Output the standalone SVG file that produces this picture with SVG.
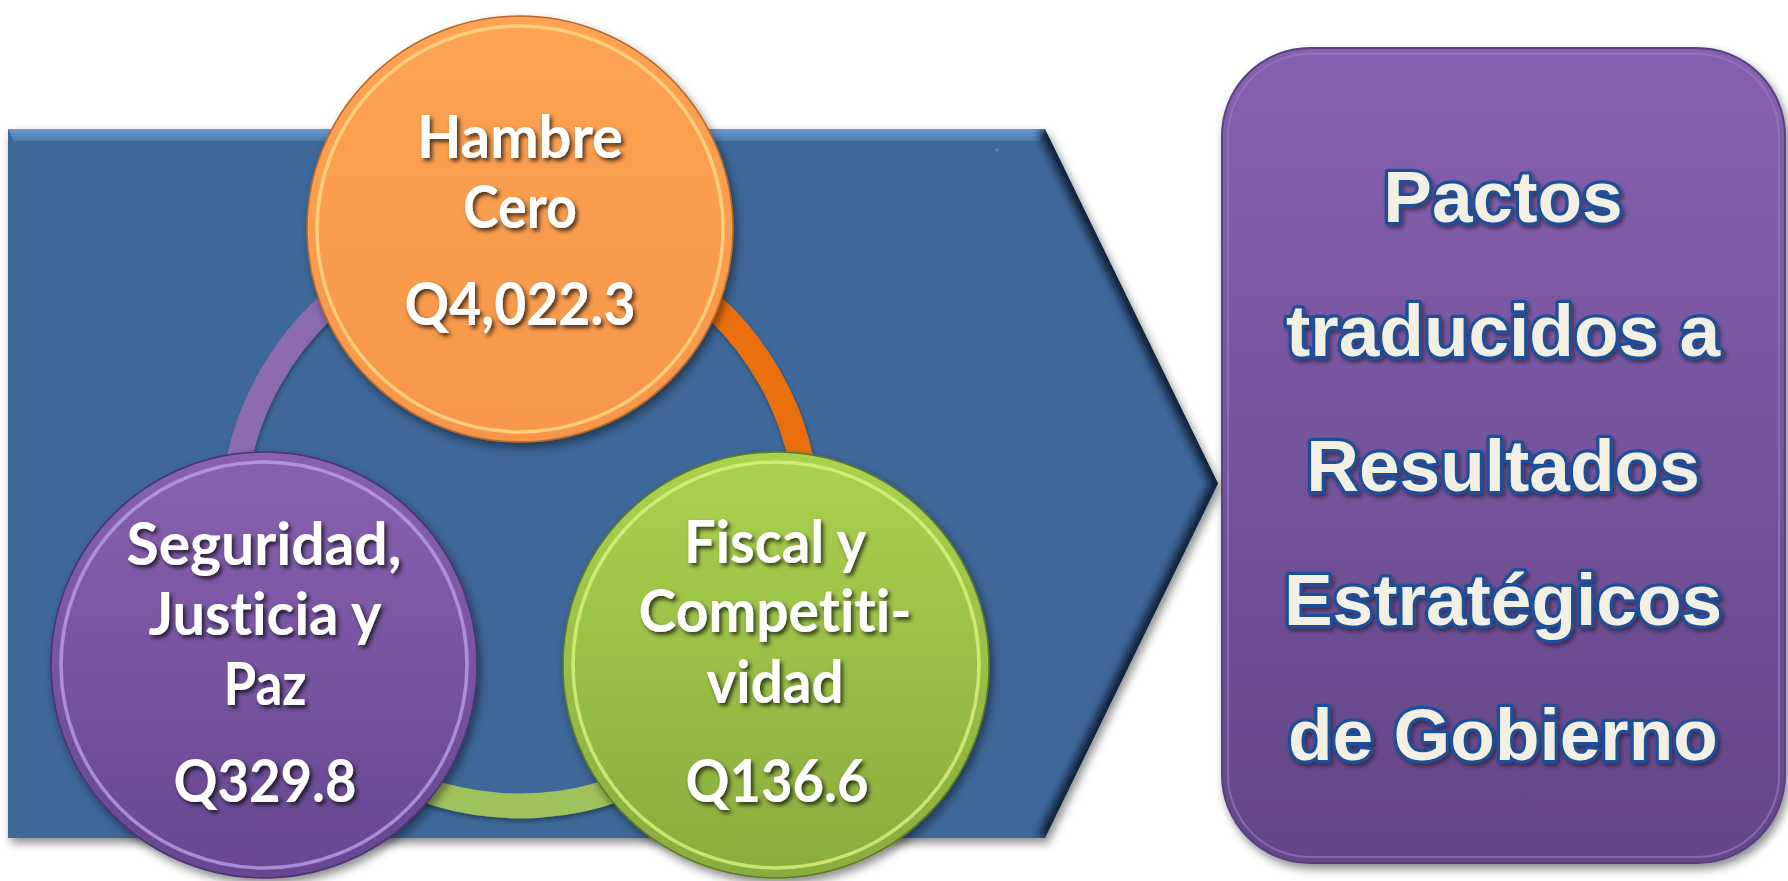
<svg xmlns="http://www.w3.org/2000/svg" width="1788" height="881" viewBox="0 0 1788 881">
<defs>
<style>
.lbl{font-family:Lato,"Liberation Sans",sans-serif;font-weight:700;font-size:60px;fill:#ffffff;text-anchor:middle;font-variant-ligatures:none;font-feature-settings:"liga" 0,"clig" 0;filter:url(#tsh)}
.big{font-family:"Liberation Sans",Arial,sans-serif;font-weight:700;font-size:73px;fill:#F3F0E3;stroke:#1C4F97;stroke-width:6.5;stroke-linejoin:round;paint-order:stroke;text-anchor:middle;filter:url(#tsh2)}
.ring{fill:none;stroke-width:25}
.rim{fill:none;stroke-width:3.5;opacity:0.8}
</style>
<filter id="tsh" x="-20%" y="-30%" width="140%" height="160%"><feDropShadow dx="2.5" dy="3" stdDeviation="2" flood-color="#000" flood-opacity="0.7"/></filter>
<filter id="tsh2" x="-20%" y="-30%" width="140%" height="160%"><feDropShadow dx="2" dy="3" stdDeviation="2" flood-color="#000" flood-opacity="0.45"/></filter>
<filter id="ssh" x="-20%" y="-20%" width="140%" height="140%"><feDropShadow dx="3" dy="5" stdDeviation="5" flood-color="#000" flood-opacity="0.45"/></filter>
<filter id="rsh" x="-10%" y="-10%" width="120%" height="120%"><feDropShadow dx="1" dy="3" stdDeviation="2" flood-color="#000" flood-opacity="0.35"/></filter>
<filter id="b4"><feGaussianBlur stdDeviation="4"/></filter>
<filter id="b2"><feGaussianBlur stdDeviation="2"/></filter>
<clipPath id="pc"><path d="M8,129 H1045 L1218,483.5 L1045,838 H8 Z"/></clipPath>
<linearGradient id="gTop" x1="0" y1="0" x2="0" y2="1"><stop offset="0" stop-color="#6B98CF"/><stop offset="1" stop-color="#4D7AB0"/></linearGradient>
<linearGradient id="gOr" x1="0" y1="0" x2="0" y2="1"><stop offset="0" stop-color="#FDA352"/><stop offset="1" stop-color="#F7964A"/></linearGradient>
<linearGradient id="gPu" x1="0" y1="0" x2="0" y2="1"><stop offset="0" stop-color="#8762B1"/><stop offset="1" stop-color="#654790"/></linearGradient>
<linearGradient id="gGr" x1="0" y1="0" x2="0" y2="1"><stop offset="0" stop-color="#AAD24F"/><stop offset="1" stop-color="#89AC3E"/></linearGradient>
<linearGradient id="gBox" x1="0" y1="0" x2="0" y2="1"><stop offset="0" stop-color="#8661B1"/><stop offset="1" stop-color="#634686"/></linearGradient>
</defs>

<g id="chevron">
<path d="M8,129 H1045 L1218,483.5 L1045,838 H8 Z" fill="#3D6899" filter="url(#ssh)"/>
<g clip-path="url(#pc)">
<path d="M8,129 H1045 L1040,141 H14 Z" fill="url(#gTop)"/>
<path d="M1045,129 L1218,483.5 L1045,838" fill="none" stroke="#0E1F33" stroke-width="14" filter="url(#b4)"/>
<path d="M8,838 H1045" fill="none" stroke="#1A3151" stroke-width="12" filter="url(#b4)"/>
<path d="M8,129 V838" fill="none" stroke="#2B4D75" stroke-width="6" filter="url(#b2)"/>
</g>
<circle cx="997" cy="150" r="1.8" fill="#5A86BE"/>
</g>

<g id="connectors" filter="url(#rsh)">
<path class="ring" d="M520,232 A287,287 0 0 1 768.5,662.5" stroke="#EB6F0C"/>
<path class="ring" d="M768.5,662.5 A287,287 0 0 1 271.5,662.5" stroke="#A0C25B"/>
<path class="ring" d="M271.5,662.5 A287,287 0 0 1 520,232" stroke="#8A6CAE"/>
</g>

<g id="node-hambre-cero">
<circle cx="520" cy="229" r="213" fill="url(#gOr)" stroke="#B86A2A" stroke-width="1.5" filter="url(#ssh)"/>
<circle class="rim" cx="520" cy="229" r="203" stroke="#FFD987"/>
<text class="lbl" x="520" y="158" textLength="206" lengthAdjust="spacingAndGlyphs">Hambre</text>
<text class="lbl" x="520" y="228" textLength="114" lengthAdjust="spacingAndGlyphs">Cero</text>
<text class="lbl" x="520" y="325" textLength="231" lengthAdjust="spacingAndGlyphs">Q4,022.3</text>
</g>

<g id="node-seguridad">
<circle cx="264" cy="665" r="213" fill="url(#gPu)" stroke="#4A3270" stroke-width="1.5" filter="url(#ssh)"/>
<circle class="rim" cx="264" cy="665" r="203" stroke="#B89FE6"/>
<text class="lbl" x="264" y="565" textLength="275" lengthAdjust="spacingAndGlyphs">Seguridad,</text>
<text class="lbl" x="265" y="635" textLength="233" lengthAdjust="spacingAndGlyphs">Justicia y</text>
<text class="lbl" x="265" y="705" textLength="83" lengthAdjust="spacingAndGlyphs">Paz</text>
<text class="lbl" x="265" y="802" textLength="183" lengthAdjust="spacingAndGlyphs">Q329.8</text>
</g>

<g id="node-fiscal">
<circle cx="776" cy="665" r="213" fill="url(#gGr)" stroke="#5F7A28" stroke-width="1.5" filter="url(#ssh)"/>
<circle class="rim" cx="776" cy="665" r="203" stroke="#D9F27E"/>
<text class="lbl" x="775" y="563" textLength="182" lengthAdjust="spacingAndGlyphs">Fiscal y</text>
<text class="lbl" x="775" y="632" textLength="273" lengthAdjust="spacingAndGlyphs">Competiti-</text>
<text class="lbl" x="775" y="703" textLength="137" lengthAdjust="spacingAndGlyphs">vidad</text>
<text class="lbl" x="777" y="802" textLength="183" lengthAdjust="spacingAndGlyphs">Q136.6</text>
</g>

<g id="node-pactos">
<rect x="1222" y="48" width="563" height="815" rx="88" fill="url(#gBox)" stroke="#5A3F7E" stroke-width="2" filter="url(#ssh)"/>
<rect x="1228" y="54" width="551" height="803" rx="82" fill="none" stroke="#9B7DC8" stroke-width="2" opacity="0.6"/>
<text class="big" x="1503" y="222">Pactos</text>
<text class="big" x="1503" y="356">traducidos a</text>
<text class="big" x="1503" y="491">Resultados</text>
<text class="big" x="1503" y="625">Estratégicos</text>
<text class="big" x="1503" y="760">de Gobierno</text>
</g>
</svg>
